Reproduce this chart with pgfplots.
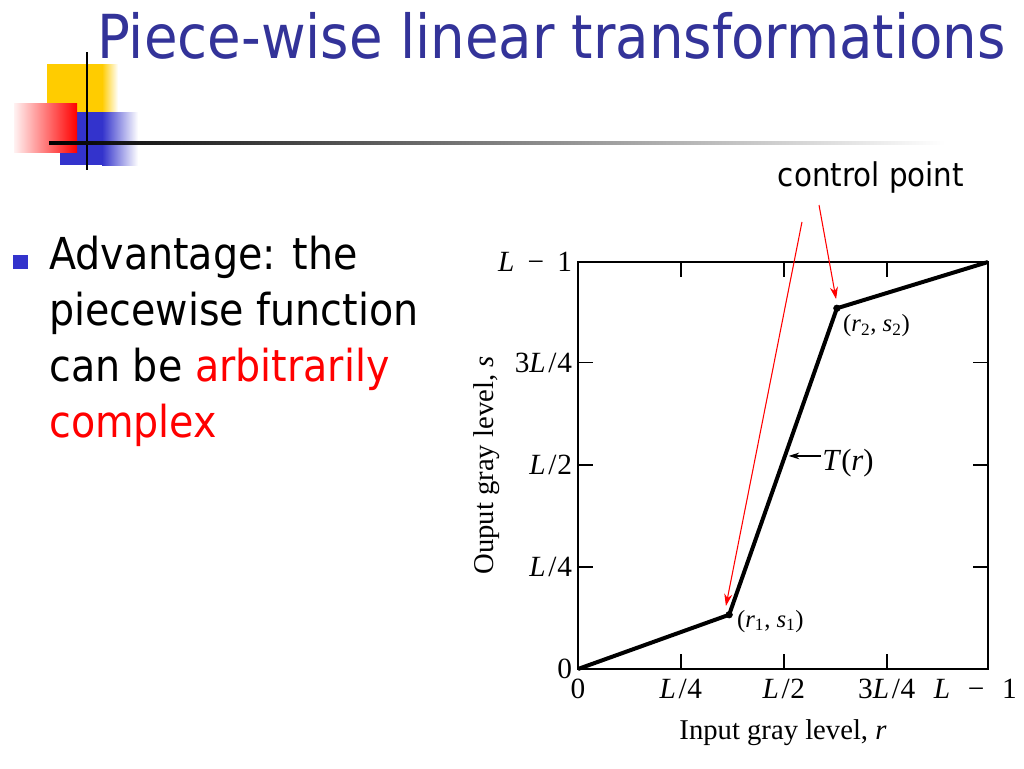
\documentclass[border=0pt]{standalone}
\usepackage{fontspec}
\setmainfont{Liberation Serif}
\newfontfamily\slidefont{DejaVu Sans Condensed}
\usepackage{pgfplots}
\pgfplotsset{compat=1.18}
\usetikzlibrary{arrows.meta}
\definecolor{titleblue}{RGB}{51,51,153}
\definecolor{bulletblue}{RGB}{51,51,204}
\definecolor{decoyellow}{RGB}{255,204,0}
\newcommand{\Lq}[1]{#1\textit{L}\kern2pt/\kern0.5pt4}
\newcommand{\Lh}{\textit{L}\kern2pt/\kern0.5pt2}

\begin{document}
\begin{tikzpicture}[x=0.75pt,y=0.75pt]
% 1 unit = 1 px of the 1024x768 slide, y runs downwards as negative
\fill[white] (0,0) rectangle (1024,-768);
\path[use as bounding box] (0,0) rectangle (1024,-768);

% corner decoration
\fill[decoyellow] (47,-64) rectangle (102,-112);
\shade[left color=decoyellow, right color=white] (102,-64) rectangle (118,-112);
\fill[bulletblue] (60,-112) rectangle (102,-165);
\shade[left color=bulletblue, right color=white] (102,-112) rectangle (138,-165);
\shade[left color=red!5, right color=red] (14,-103) rectangle (77,-152);
\draw[line width=1.5pt] (87,-52) -- (87,-170);
\shade[left color=black, right color=white] (49,-141.5) rectangle (945,-144.5);

% title
\node[anchor=base west, inner sep=0pt, text=titleblue,
      font=\slidefont\fontsize{45.5}{54}\selectfont] at (97,-58)
      {Piece-wise linear transformations};

% bullet
\fill[bulletblue] (13,-255) rectangle (28,-269);
\begin{scope}[every node/.style={anchor=base west, inner sep=0pt,
      font=\slidefont\fontsize{33}{40}\selectfont}]
  \node at (49,-269) {Advantage: the};
  \node at (49,-325) {piecewise function};
  \node at (49,-381) {can be \textcolor{red}{arbitrarily}};
  \node[text=red] at (49,-437) {complex};
\end{scope}

\node[anchor=base, inner sep=0pt, font=\slidefont\fontsize{24.5}{29}\selectfont]
  at (871,-186) {control point};

\begin{axis}[
    at={(433.5pt,-501.75pt)}, anchor=origin,
    scale only axis,
    width=307.5pt, height=305.25pt,
    xmin=0, xmax=255, ymin=0, ymax=255,
    xtick={0,64,128,192,255},
    ytick={0,64,128,192,255},
    xticklabels={0, \Lq{}, \Lh, \Lq{3},
      \kern-19pt\textit{L}\hspace{0.6em}−\hspace{0.6em}1},
    yticklabels={0, \Lq{}, \Lh, \Lq{3},
      \textit{L}\hspace{0.45em}−\hspace{0.45em}1},
    tick align=inside,
    major tick length=11pt,
    axis line style={line width=1.2pt},
    every tick/.style={line width=1.2pt, black},
    tick label style={font=\fontsize{22}{25}\selectfont},
    xticklabel style={yshift=-4pt},
    yticklabel style={xshift=-1pt},
    xlabel={Input gray level, \textit{r}},
    ylabel={Ouput gray level, \textit{s}},
    label style={font=\fontsize{21.5}{24}\selectfont},
    xlabel style={at={(axis description cs:0.5,-0.157)}, anchor=center},
    ylabel style={at={(axis description cs:-0.222,0.5)}, anchor=center},
    clip=false,
  ]
  \addplot[black, line width=3pt, line join=round] coordinates {
      (0,0) (94,34) (161,226) (255,255)
    };
  \addplot[only marks, mark=*, mark size=2.5pt, black] coordinates {
      (94,34) (161,226)
    };
  \node[anchor=west, font=\fontsize{18.5}{22}\selectfont] at (axis cs:96,30)
    {(\textit{r}\textsubscript{1}, \textit{s}\textsubscript{1})};
  \node[anchor=west, font=\fontsize{18.5}{22}\selectfont] at (axis cs:162,215)
    {(\textit{r}\textsubscript{2}, \textit{s}\textsubscript{2})};
  \draw[-{Stealth[length=8pt,width=5pt]}, line width=1.2pt]
    (axis cs:151,133.5) -- (axis cs:131,133.5);
  \node[anchor=west, font=\fontsize{23}{26}\selectfont, inner sep=1pt] at (axis cs:151,129)
    {\textit{T}(\textit{r})};
  % pointers from "control point"
  \draw[red, line width=0.8pt, -{Stealth[length=9pt,width=6pt]}]
    (axis cs:139.3,280.1) -- (axis cs:92,39.5);
  \draw[red, line width=0.8pt, -{Stealth[length=9pt,width=6pt]}]
    (axis cs:149.9,290.7) -- (axis cs:160.5,231.8);
\end{axis}
\end{tikzpicture}
\end{document}
